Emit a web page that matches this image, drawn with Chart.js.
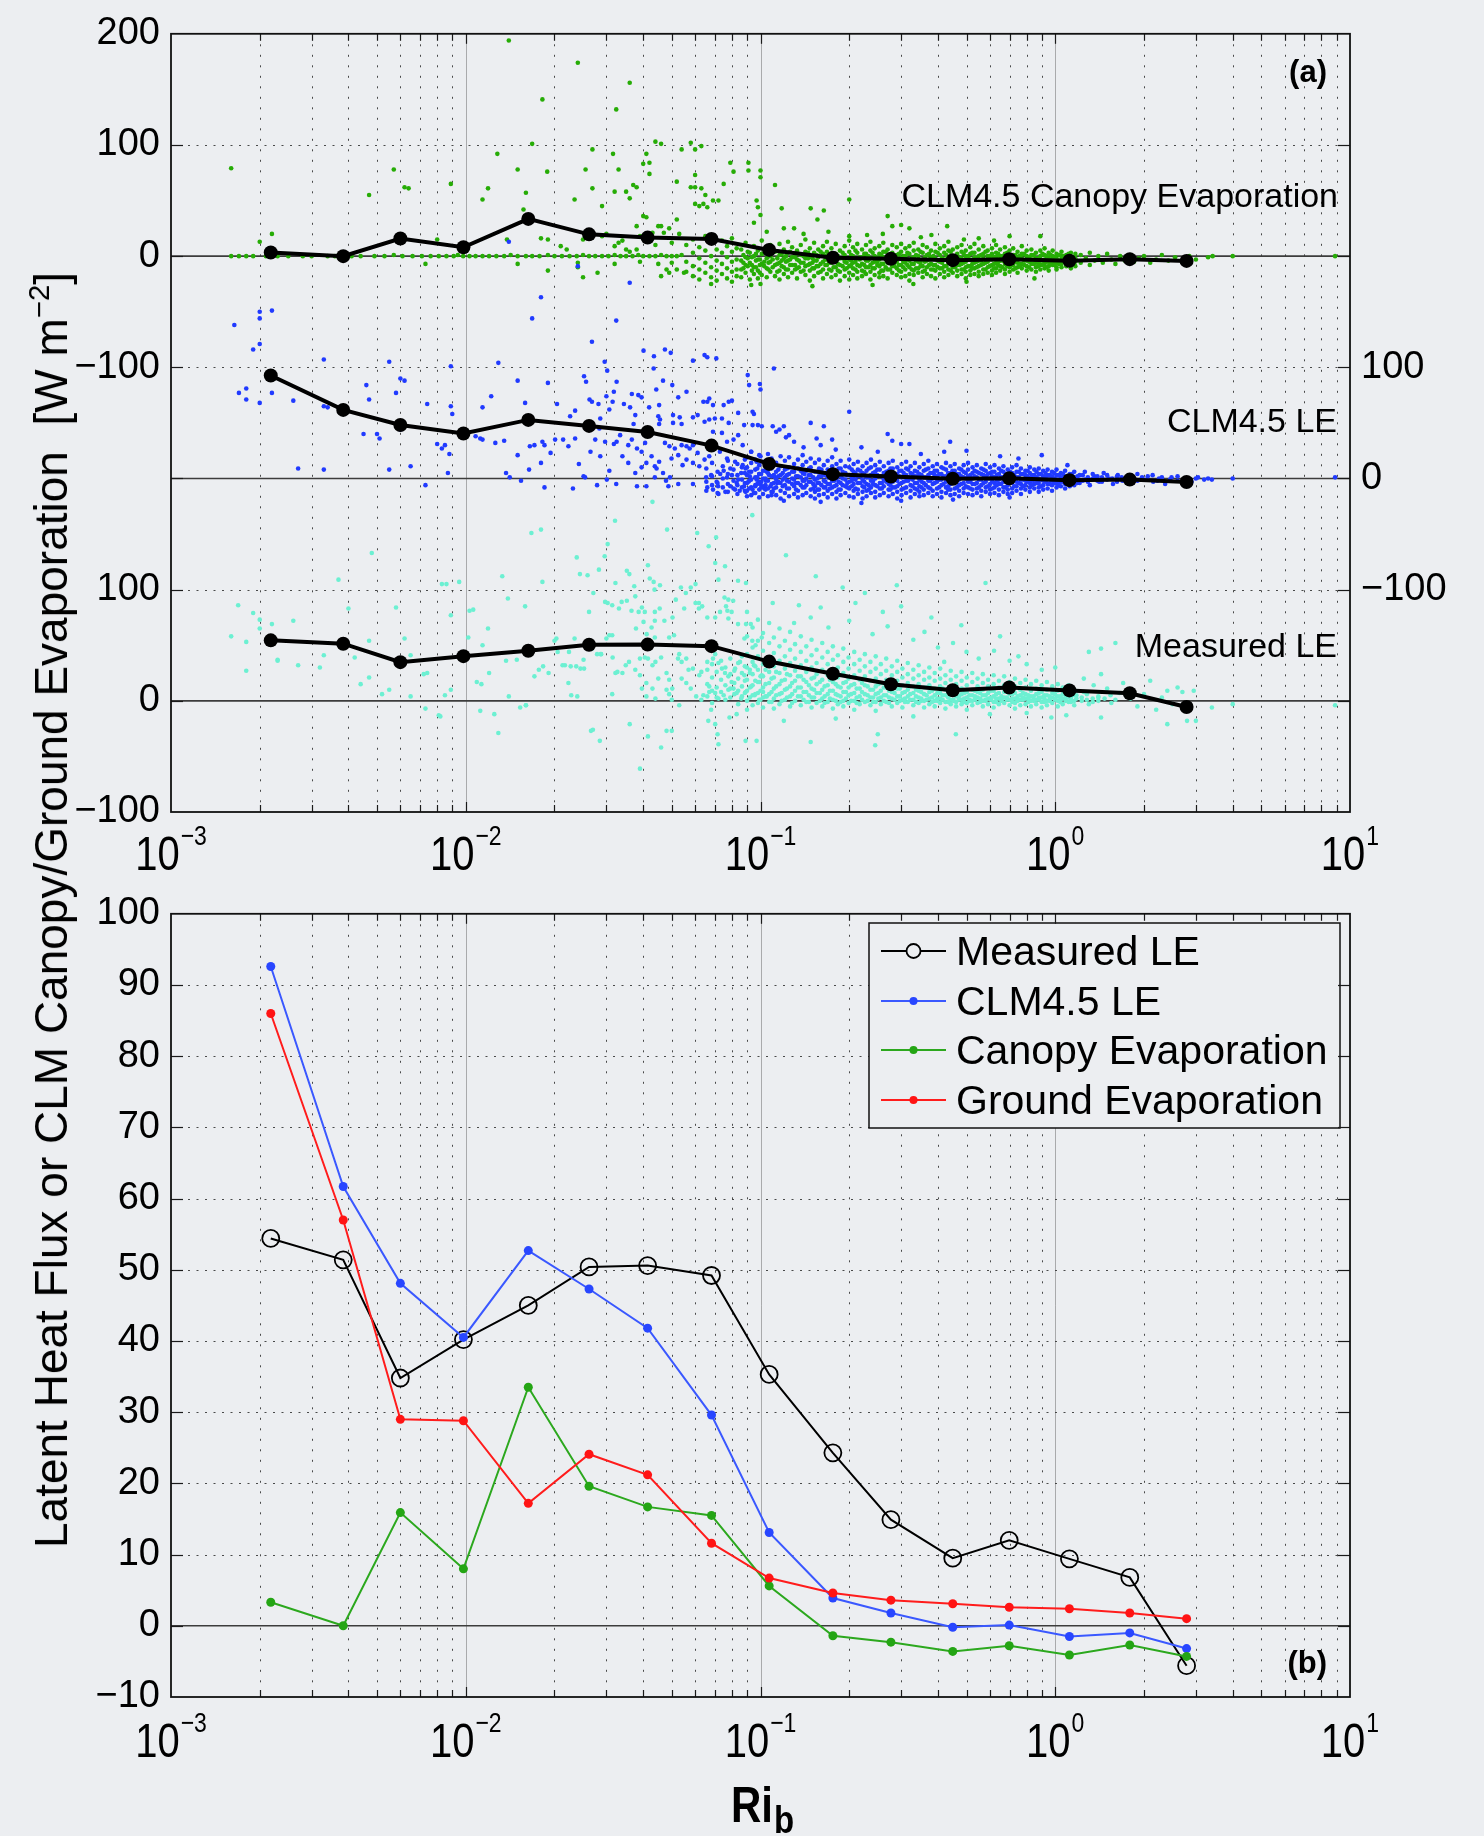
<!DOCTYPE html>
<html>
<head>
<meta charset="utf-8">
<script src="https://cdn.jsdelivr.net/npm/chart.js@4.4.1/dist/chart.umd.min.js"></script>
<style>
html, body { margin: 0; padding: 0; background: #eceef1; }
#wrap { position: relative; width: 1484px; height: 1836px; overflow: hidden; background: #eceef1; }
canvas { position: absolute; left: 0; }
#top { top: 0; }
#bot { top: 880px; }
#ytitle {
  position: absolute; left: 51px; top: 910px;
  transform: translate(-50%, -50%) rotate(-90deg);
  font: 46px "Liberation Sans", Arial, sans-serif; white-space: nowrap; line-height: 1; color: #000;
}
#ytitle sup { font-size: 0.64em; position: relative; top: -0.62em; vertical-align: baseline; line-height: 0; }
</style>
</head>
<body>
<div id="wrap">
  <canvas id="top" width="1484" height="880"></canvas>
  <canvas id="bot" width="1484" height="956"></canvas>
  <div id="ytitle">Latent Heat Flux or CLM Canopy/Ground Evaporation&nbsp; [W m<sup>−2</sup>]</div>
</div>
<script>
const FONT = '"Liberation Sans", Arial, Helvetica, sans-serif';
const BG = '#eceef1';

// ---- bin-averaged fluxes (W m-2) versus bulk Richardson number ----
const riBins     = [0.00218, 0.00384, 0.0060, 0.00982, 0.0163, 0.0262, 0.0414, 0.0682, 0.107, 0.176, 0.277, 0.449, 0.698, 1.117, 1.79, 2.79];
const measuredLE = [54.4, 51.4, 34.8, 40.2, 45.0, 50.4, 50.6, 49.2, 35.3, 24.3, 14.9, 9.5, 12.0, 9.4, 6.8, -5.6];
const clmLE      = [92.6, 61.7, 48.1, 40.5, 52.7, 47.3, 41.8, 29.6, 13.1, 3.9, 1.8, -0.2, 0.1, -1.5, -1.0, -3.2];
const canopyEvap = [3.3, 0.0, 15.9, 8.0, 33.5, 19.6, 16.7, 15.5, 5.6, -1.4, -2.3, -3.6, -2.8, -4.1, -2.7, -4.3];
const groundEvap = [86.0, 57.0, 29.0, 28.8, 17.2, 24.1, 21.2, 11.6, 6.7, 4.6, 3.6, 3.1, 2.6, 2.4, 1.8, 1.0];

// ---- axis ticks ----
const xDecades = [-3, -2, -1, 0, 1];
const xDecadeLabels = ['−3', '−2', '−1', '0', '1'];
const topTicks = [-500, -400, -300, -200, -100, 0, 100, 200];
const topLeftLabels = ['−100', '0', '100', '', '−100', '0', '100', '200'];
const topRightLabels = ['', '', '−100', '0', '100', '', '', ''];
const botTicks = [-10, 0, 10, 20, 30, 40, 50, 60, 70, 80, 90, 100];
const botLabels = ['−10', '0', '10', '20', '30', '40', '50', '60', '70', '80', '90', '100'];

// ---- individual half-hour values [Ri_b, W m-2] ----
// isolated points, dense columns [Ri_b, values...], and the crowded core of each cloud

// CLM4.5 canopy evaporation
const canopyPts = [
[0.0016,0],[0.0017,0],[0.0018,0],[0.0019,0],[0.0021,0],[0.0023,0],[0.0025,0],[0.0028,0],[0.003,0],[0.0034,0],[0.0036,0],[0.0041,0],[0.0044,0],[0.0049,0],[0.0053,0],[0.0057,1],[0.0061,0],[0.0066,0],[0.0071,0],[0.0076,0],[0.0081,0],[0.0086,0],[0.0091,0],[0.0094,1],[0.0098,0],[0.0103,0],[0.0108,0],[0.0114,0],[0.012,0],[0.0127,0],[0.0135,0],[0.0142,1],[0.015,0],[0.016,0],[0.0168,0],[0.0178,0],[0.019,1],[0.02,0],[0.0212,0],[0.0225,0],[0.0238,0],[0.025,1],[0.0262,0],[0.0275,0],[0.029,0],[0.0305,0],[0.032,1],[0.0335,0],[0.035,0],[0.0368,0],[0.0385,1],[0.04,0],[0.042,0],[0.044,0],[0.046,1],[0.048,0],[0.05,0],[0.052,0],[0.054,1],
[0.0016,79],[0.002,13],[0.0022,20],[0.0057,78],[0.0062,62],[0.0064,61],[0.0047,55],[0.0089,65],[0.008,15],[0.0073,-7],
[0.014,194],[0.024,174],[0.0182,141],[0.036,156],[0.0324,132],[0.0168,101],[0.0128,92],[0.015,78],[0.0189,76],[0.0119,61],[0.0114,51],[0.016,57],[0.0157,42],[0.0269,96],[0.0316,92],[0.0255,78],[0.0234,51],[0.0269,61],[0.029,45],[0.032,58],[0.035,58],[0.036,52],[0.033,78],[0.037,64],[0.038,62],[0.04,83],[0.042,84],[0.041,92],[0.044,103],[0.046,101],[0.042,74],[0.04,36],[0.041,35],[0.038,27],[0.046,27],[0.052,33],[0.052,67],[0.054,96],[0.058,102],[0.06,96],[0.063,99],[0.06,73],[0.058,62],[0.06,62],[0.063,61],[0.06,47],[0.062,45],[0.064,47],[0.066,44],[0.065,55],[0.069,50],[0.072,50],[0.079,84],[0.081,76],[0.075,65],
[0.015,-7],[0.019,-13],[0.024,-10],[0.024,-6],[0.025,-19],[0.028,-15],[0.032,-7],[0.039,-5],[0.045,-7],[0.046,-18],[0.049,-15],[0.048,-12],[0.05,-6],[0.052,-12],[0.055,-15],
[0.018,16],[0.019,15],[0.022,6],[0.025,15],[0.026,18],[0.029,18],[0.032,9],[0.033,12],[0.035,6],[0.036,4],[0.038,6],[0.039,18],[0.041,15],[0.043,21],[0.045,27],[0.047,21],[0.049,25],[0.0138,15],[0.021,9],[0.03,20],[0.034,14],[0.044,10],[0.05,12],[0.053,20],
[0.091,84],[0.091,77],[0.1,77],[0.1,71],[0.112,64],[0.097,50],[0.098,44],[0.1,37],[0.118,43],[0.148,43],[0.156,33],[0.164,41],[0.2,51],[0.2,18],[0.27,36],[0.28,27],[0.3,28],[0.32,25],[0.43,27],[0.49,15],[0.7,18],[0.89,18],[0.12,25],[0.13,25],[0.095,30],[0.105,22],[0.14,20],[0.17,22],[0.23,19],[0.26,20],[0.35,17],[0.38,19],[0.55,16],[0.62,14],
[0.093,-26],[0.1,-25],[0.15,-27],[0.24,-26],[0.33,-25],[0.5,-23],[0.85,-20],
[1.22,1],[1.22,-6],[1.27,-2],[1.31,3],[1.31,-8],[1.36,-4],[1.4,0],[1.45,-6],[1.5,2],[1.55,-3],[1.6,-7],[1.66,0],[1.72,-4],[1.8,1],[1.85,-5],[1.92,-2],[2.0,0],[2.1,-6],[2.2,-3],[2.3,1],[2.42,-4],[2.55,-1],[2.7,-5],[2.85,0],[3.0,-3],[3.3,-1],[3.42,0],[4.0,0],[8.9,0]
];
const canopyCols = [
[0.056,10,-5,-14],[0.059,15,3,-9,-18],[0.062,8,-2,-12,-21],[0.065,18,5,-6,-15],[0.068,12,0,-10,-19,-25],[0.071,6,-4,-13,-22],[0.074,14,3,-7,-16],[0.077,9,-1,-11,-20],[0.08,16,4,-5,-14,-23],[0.083,7,-3,-12,-18],
[0.086,6,-4,-12,-19],[0.089,12,-1,-8,-15],[0.092,3,-6,-21],[0.095,9,0,-10,-16],[0.098,5,-3,-13,-20],[0.101,14,2,-7,-17],[0.105,7,-2,-11,-19],[0.108,10,0,-5,-14],[0.112,4,-8,-18],[0.116,11,1,-6,-13,-21],
[0.12,6,-2,-10,-16],[0.124,13,3,-4,-12,-19],[0.128,8,-1,-8,-15],[0.133,5,-3,-11,-20],[0.137,10,1,-6,-14],[0.142,15,4,-2,-9,-17],[0.147,7,0,-7,-13,-22],[0.152,12,3,-4,-11,-18],[0.157,6,-1,-9,-15],[0.163,9,2,-5,-12,-20],
[0.168,13,4,-3,-8,-16],[0.174,7,0,-6,-13,-19],[0.18,11,2,-4,-10,-17],[0.186,5,-2,-8,-14,-22],[0.193,9,1,-5,-12,-18],[0.2,14,4,-3,-9,-15,-21],[0.206,8,0,-6,-11,-17],[0.213,11,3,-2,-8,-14,-20],[0.221,6,-1,-7,-13,-18],[0.228,10,2,-4,-10,-16],
[0.236,13,5,-2,-8,-14,-21],[0.244,7,0,-5,-11,-17],[0.253,9,2,-3,-9,-15,-19],[0.261,12,4,-1,-7,-13,-18],[0.27,6,0,-6,-12,-20],[0.28,10,3,-3,-9,-15],[0.29,8,1,-5,-11,-17],[0.3,11,4,-2,-8,-14,-19],[0.31,7,0,-6,-12,-18],[0.32,9,2,-4,-10,-16,-22],
[0.331,12,5,-1,-7,-13,-17],[0.343,6,0,-5,-11,-15],[0.355,10,3,-3,-9,-14,-19],[0.367,8,1,-4,-10,-16],[0.379,5,-1,-7,-12,-18],[0.392,11,4,-2,-8,-13,-20],[0.406,7,1,-5,-11,-16],[0.42,9,3,-3,-9,-14,-19],[0.434,13,5,-1,-6,-12,-17],[0.449,6,0,-5,-10,-15],
[0.465,8,2,-3,-8,-13,-18],[0.481,10,4,-2,-7,-12,-16],[0.497,5,0,-5,-10,-14,-20],[0.515,8,2,-3,-9,-13,-17],[0.532,11,3,-1,-6,-11,-16],[0.55,6,0,-4,-9,-14,-18],[0.57,9,2,-2,-7,-12,-16],[0.59,5,0,-5,-10,-15],[0.61,7,2,-3,-8,-13,-17],[0.63,10,3,-1,-6,-11,-15],
[0.65,6,0,-4,-9,-13],[0.675,8,2,-2,-7,-12,-16],[0.7,5,0,-5,-10,-14],[0.72,7,1,-3,-8,-12],[0.745,4,-1,-6,-10,-15],[0.77,9,2,-2,-7,-11],[0.8,5,0,-4,-9,-13],[0.83,6,1,-3,-7,-12],[0.86,3,-2,-6,-10,-14],[0.89,5,0,-4,-8,-12],
[0.92,7,1,-3,-7,-11],[0.95,3,-2,-5,-9,-13],[0.98,5,0,-4,-8],[1.01,2,-2,-6,-10,-12],[1.05,4,0,-3,-7,-10],[1.09,1,-3,-6,-9],[1.13,3,-1,-4,-8,-11],[1.17,2,-2,-5,-9]
];
const canopyCore = [
[0.0875,1,-6,-11],[0.0905,4,-2,-9],[0.0935,-1,-8,-13],[0.0965,2,-4,-10],[0.0995,-3,-8,-15],[0.103,3,-5,-9],[0.1065,0,-6,-12],[0.11,5,-3,-10],[0.114,-2,-7,-14],[0.118,2,-4,-9],
[0.122,0,-5,-12],[0.126,4,-3,-8],[0.131,-1,-8,-12],[0.135,2,-4,-10],[0.14,0,-6,-13],[0.145,3,-2,-8],[0.15,-2,-6,-11],[0.155,1,-4,-9],[0.16,4,-7,-14],[0.166,0,-3,-8],
[0.171,-1,-6,-12],[0.177,2,-5,-10],[0.183,0,-7,-13],[0.19,3,-2,-9],[0.196,-2,-6,-11],[0.203,1,-4,-8],[0.21,5,-5,-12],[0.217,-1,-3,-9],[0.225,2,-8,-14],[0.232,0,-4,-10],
[0.24,3,-6,-11],[0.249,-2,-5,-8],[0.257,1,-7,-13],[0.266,4,-3,-10],[0.275,0,-6,-12],[0.285,-1,-4,-9],[0.295,2,-8,-13],[0.305,0,-5,-10],[0.315,3,-3,-8],[0.326,-2,-7,-12],
[0.337,1,-4,-11],[0.349,4,-6,-9],[0.361,-1,-5,-13],[0.373,2,-3,-8],[0.386,0,-8,-12],[0.399,3,-4,-10],[0.413,-2,-6,-11],[0.427,1,-3,-9],[0.442,4,-7,-13],[0.457,0,-5,-10],
[0.473,-1,-4,-8],[0.489,2,-6,-12],[0.506,0,-3,-9],[0.523,3,-7,-11],[0.541,-2,-5,-10],[0.56,1,-4,-8],[0.58,4,-6,-12],[0.6,0,-3,-9],[0.62,-1,-7,-11],[0.64,2,-5,-8],
[0.662,0,-4,-10],[0.687,3,-6,-9],[0.71,-1,-3,-8],[0.733,1,-5,-11],[0.757,0,-7,-9],[0.785,2,-4,-8],[0.815,-1,-5,-10],[0.845,1,-3,-7],[0.875,-2,-6,-9],[0.905,2,-4,-8],
[0.935,0,-5,-10],[0.965,1,-3,-7],[0.995,-1,-6,-8],[1.03,1,-4,-7],[1.07,0,-5],[1.11,2,-3,-6],[1.15,-1,-4]
];

// CLM4.5 latent heat flux
const clmPts = [
[0.00164,138],[0.002,150],[0.0022,151],[0.002,144],[0.002,121],[0.0019,116],[0.0017,77],[0.0018,71],[0.0018,81],[0.002,68],[0.0022,77],[0.0026,70],[0.0033,107],[0.0033,65],[0.0034,64],[0.0045,40],[0.0047,71],[0.0046,84],[0.0051,36],[0.005,40],[0.0055,105],[0.0058,77],[0.006,90],[0.0062,88],[0.006,44],[0.0074,67],[0.008,31],[0.0083,27],[0.0085,30],[0.0088,22],[0.0089,101],[0.0089,65],[0.009,58],
[0.0027,9],[0.0033,8],[0.0055,8],[0.0065,11],[0.0073,-6],[0.0087,5],
[0.014,213],[0.018,163],[0.024,191],[0.036,176],
[0.0168,144],[0.0324,142],[0.0268,123],[0.0129,104],[0.0296,105],[0.0401,115],[0.0435,110],[0.0434,99],[0.0474,116],[0.0496,113],[0.059,106],[0.0646,111],[0.066,109],[0.0708,108],[0.111,99],[0.015,88],[0.019,86],[0.0159,68],[0.0204,67],[0.0114,64],[0.0122,74],[0.0252,92],[0.0256,87],[0.0302,97],[0.0325,87],[0.0318,78],[0.03,74],[0.0315,69],[0.0263,71],[0.0268,69],[0.0282,67],[0.0307,62],[0.0344,67],[0.0366,76],[0.0385,75],[0.0395,73],[0.0419,64],[0.0453,66],[0.0467,88],[0.0443,80],[0.0526,73],[0.0561,78],[0.0502,84],[0.0226,56],[0.0235,61],[0.0286,54],[0.0284,45],[0.0361,64],[0.0376,57],[0.0371,49],[0.045,56],[0.0456,53],[0.0453,49],[0.0505,57],[0.0505,50],[0.0532,55],[0.054,49],[0.059,55],[0.0612,57],[0.064,69],[0.066,69],[0.067,72],[0.0646,51],[0.067,53],[0.07,54],[0.074,54],[0.078,50],[0.069,66],[0.075,66],[0.078,69],[0.08,70],[0.0905,93],[0.0915,84],[0.0995,85],[0.1,80],[0.094,60],[0.095,58],[0.084,59],[0.088,48],[0.094,48],[0.098,48],[0.101,47],[0.11,47],[0.113,42],
[0.01,42],[0.0108,38],[0.0112,36],[0.0114,35],[0.0126,32],[0.0135,34],[0.015,21],[0.0165,29],[0.0171,30],[0.018,14],[0.0164,8],[0.0137,5],[0.0141,1],[0.0154,-2],[0.0182,33],[0.0185,30],[0.0194,23],[0.0201,35],[0.0214,35],[0.0223,29],[0.0235,36],[0.0242,13],[0.0251,2],[0.0254,1],[0.0185,-8],[0.0231,-9],[0.0279,-6],[0.0265,24],[0.0275,35],[0.0297,33],[0.0318,31],[0.0325,33],[0.0334,39],[0.0286,20],[0.0307,7],[0.0301,-1],[0.0324,-5],[0.034,20],[0.0356,30],[0.0366,35],[0.0381,27],[0.0395,24],[0.0406,32],[0.0356,14],[0.0376,5],[0.0395,10],[0.041,14],[0.0427,20],[0.0438,11],[0.0444,9],[0.0453,15],[0.0381,-7],[0.041,-7],[0.0438,1],[0.0467,5],[0.0493,1],
[0.0474,32],[0.0491,29],[0.0512,27],[0.054,30],[0.0561,29],[0.0575,27],[0.059,30],[0.0612,23],[0.0499,18],[0.0526,21],[0.0544,12],[0.0561,17],[0.059,14],[0.062,11],[0.0646,17],[0.067,20],[0.0478,-2],[0.0487,-7],[0.0526,-5],[0.059,-5],[0.0654,1],[0.066,-8],[0.069,-10],[0.0718,-7],[0.075,7],[0.077,1],[0.079,-7],[0.082,-10],[0.085,-11],[0.088,-7],[0.09,-16],[0.094,-10],[0.096,-7],[0.1,-5],[0.104,-2],[0.108,-7],[0.112,1],[0.0728,24],[0.077,18],[0.082,15],[0.087,12],[0.089,9],[0.093,24],[0.097,15],[0.1,20],[0.106,15],[0.069,42],[0.074,41],[0.077,33],[0.081,35],[0.084,39],[0.087,30],
[0.071,-3],[0.073,4],[0.076,-12],[0.08,3],[0.083,-4],[0.086,5],[0.091,-3],[0.092,2],[0.095,-13],[0.099,4],[0.103,-9],[0.107,3],[0.11,-12],[0.114,-4],[0.068,3],[0.072,-14],[0.079,9],[0.084,-1],[0.089,-12],[0.097,-1],[0.105,6],[0.109,-15],
[0.12,47],[0.122,37],[0.148,50],[0.164,47],[0.2,60],[0.28,34],[0.3,31],[0.5,25],[0.9,21],[0.13,33],[0.14,28],[0.16,30],[0.18,26],[0.22,28],[0.25,24],[0.35,22],[0.42,24],[0.65,20],[0.75,18],[1.1,12],[0.27,40],[0.32,31],[0.44,33],[0.116,44],[0.125,39],[0.155,36],[0.175,35],
[0.12,-20],[0.16,-21],[0.22,-22],[0.3,-20],[0.45,-19],[0.7,-17],
[1.21,3],[1.21,-4],[1.26,6],[1.26,-1],[1.31,-6],[1.36,2],[1.41,-3],[1.46,5],[1.52,0],[1.57,-5],[1.63,3],[1.69,-2],[1.76,1],[1.83,-4],[1.9,4],[1.98,-1],[2.06,2],[2.15,-3],[2.25,0],[2.36,-5],[2.48,1],[2.6,-2],[2.75,0],[2.9,-3],[3.05,1],[3.3,0],[3.4,-1],[4.0,0],[8.9,1]
];
const clmCols = [
[0.0655,9,-3,-11],[0.0685,14,2,-6],[0.0715,6,-4,-13],[0.0745,11,0,-8],[0.0775,16,4,-5,-12],[0.081,8,-2,-9],[0.0835,13,3,-6,-14],[0.0865,10,-1,-8],[0.0885,17,5,-4,-11],
[0.09,19,10,3,-4,-11],[0.093,24,14,6,-1,-8,-15],[0.096,17,8,1,-6,-13],[0.099,21,12,4,-3,-10,-17],[0.102,15,7,0,-7,-14],[0.106,22,13,5,-2,-9,-16],[0.109,18,9,2,-5,-12],[0.113,14,6,-1,-8,-15],[0.117,20,11,3,-4,-11,-18],[0.121,16,8,1,-6,-13],
[0.125,19,10,4,-3,-9,-16],[0.13,13,6,-1,-7,-14],[0.134,17,9,2,-4,-11,-17],[0.139,21,12,5,-2,-8,-15],[0.143,15,7,0,-6,-13],[0.148,18,10,3,-3,-10,-16],[0.153,14,6,-1,-7,-12,-18],[0.158,17,9,2,-4,-10,-15],[0.164,12,5,-2,-8,-14],[0.169,16,8,1,-5,-11,-17],
[0.175,19,11,4,-2,-8,-14],[0.181,13,6,0,-6,-12,-18],[0.187,16,9,2,-4,-10,-15],[0.194,11,5,-1,-7,-13],[0.2,17,10,3,-3,-9,-16],[0.207,13,6,0,-5,-11,-17],[0.214,15,8,2,-4,-10,-14],[0.222,11,5,-1,-7,-12,-18],[0.229,14,7,1,-5,-11,-16],[0.237,17,10,3,-2,-8,-13],
[0.245,12,6,0,-6,-12,-17],[0.254,15,8,2,-4,-9,-15],[0.262,11,5,-1,-7,-13],[0.272,14,7,1,-5,-10,-16],[0.281,16,9,3,-3,-8,-14],[0.291,10,4,-2,-7,-12,-18],[0.301,13,7,1,-4,-10,-15],[0.312,15,9,3,-2,-8,-13],[0.323,11,5,0,-6,-11,-17],[0.334,14,7,2,-4,-9,-14],
[0.346,10,4,-1,-7,-12,-16],[0.358,13,7,1,-4,-10,-15],[0.371,16,9,3,-2,-8,-13],[0.384,11,5,0,-5,-11,-16],[0.397,13,7,2,-3,-9,-14],[0.411,10,4,-1,-6,-12,-17],[0.426,14,8,2,-3,-8,-13],[0.441,11,5,0,-5,-10,-15],[0.456,13,7,1,-4,-9,-14],[0.472,9,4,-1,-6,-11,-16],
[0.489,12,6,1,-4,-9,-13],[0.506,14,8,2,-3,-8,-14],[0.524,10,5,0,-5,-10,-15],[0.542,12,6,1,-4,-9,-13],[0.561,9,4,-1,-6,-11,-16],[0.581,13,7,2,-3,-8,-12],[0.601,10,5,0,-5,-10,-14],[0.622,12,6,1,-4,-8,-13],[0.644,9,4,-1,-5,-10,-15],[0.667,11,6,1,-3,-8,-12],
[0.69,8,3,-1,-6,-10,-14],[0.714,10,5,0,-4,-9,-13],[0.739,12,6,1,-3,-7,-11],[0.765,9,4,-1,-5,-9,-14],[0.792,7,3,-2,-6,-10],[0.82,10,5,0,-4,-8,-12],[0.849,8,3,-1,-5,-9],[0.879,9,4,0,-4,-8,-12],[0.91,7,2,-2,-6,-10],[0.942,8,3,-1,-5,-9],
[0.975,6,2,-2,-6,-11],[1.01,8,3,-1,-4,-8],[1.045,5,1,-3,-7],[1.08,7,2,-1,-5,-9],[1.12,4,0,-4,-7],[1.16,6,1,-2,-6]
];
const clmCore = [
[0.0915,6,-2,-9],[0.0975,9,1,-5],[0.1005,4,-3,-8],[0.104,7,0,-6,-10],[0.111,3,-4,-9],[0.115,8,2,-3],[0.119,5,-1,-7],[0.123,9,3,-2,-9],[0.128,6,0,-5],[0.132,2,-4,-10],
[0.137,7,1,-6],[0.141,4,-2,-8],[0.146,9,3,-3],[0.151,1,-5,-9],[0.156,6,0,-4,-10],[0.161,8,2,-6],[0.166,3,-3,-8],[0.172,7,1,-5,-9],[0.178,4,-2,-7],[0.184,9,2,-3,-10],
[0.19,6,0,-6],[0.197,3,-4,-8],[0.204,8,1,-2,-7],[0.21,5,-1,-9],[0.218,7,2,-4],[0.225,4,-3,-8],[0.233,9,1,-6,-10],[0.241,5,-2,-5],[0.249,8,3,-7],[0.258,2,-4,-9],
[0.267,6,0,-3],[0.276,9,4,-6,-10],[0.286,3,-1,-8],[0.296,7,2,-5],[0.306,5,-3,-9],[0.317,8,1,-2],[0.328,4,-1,-7],[0.34,6,2,-4,-10],[0.352,3,-3,-8],[0.364,8,1,-6],
[0.377,5,-2,-9],[0.39,7,3,-4],[0.404,4,-1,-8],[0.418,9,2,-5],[0.433,5,0,-7,-10],[0.448,7,3,-3],[0.464,4,-2,-8],[0.48,8,2,-5],[0.497,5,0,-7],[0.515,3,-3,-9],
[0.533,7,2,-5],[0.551,5,-1,-8],[0.571,8,3,-4],[0.591,4,0,-7],[0.611,6,2,-3,-9],[0.633,3,-2,-6],[0.655,7,1,-5],[0.678,4,-1,-8],[0.702,6,2,-3],[0.726,3,-2,-7],
[0.752,6,1,-4],[0.778,4,-1,-7],[0.806,7,2,-3],[0.834,3,-2,-6],[0.864,6,1,-4],[0.894,4,-1,-7],[0.926,5,1,-3],[0.958,3,-1,-5],[0.992,5,0,-4],[1.027,3,-2,-6],
[1.063,4,0,-3],[1.1,2,-2,-5],[1.14,4,1,-3],[1.19,2,-1,-4],[1.24,3,-2],[1.29,1,-3],[1.34,4,0],[1.39,-2,2],[1.44,1,-3],[1.5,3,-1],[1.56,0],[1.62,-3,2],[1.68,1],[1.75,-1],[1.82,2],[1.9,-2],[1.97,1],[2.05,-1],[2.14,3],[2.22,-2],[2.3,1],[2.45,-1],[2.6,2],[2.8,-2],[3.0,0],[3.2,-1]
];

// measured latent heat flux
const measuredPts = [
[0.00169,86],[0.0019,79],[0.002,73],[0.0016,58],[0.0018,53],[0.0018,27],[0.002,65],[0.0022,69],[0.0023,37],[0.0023,36],[0.0026,72],[0.0027,32],[0.0033,41],[0.0032,30],[0.0037,109],[0.004,83],[0.0042,39],[0.0047,54],[0.0044,15],[0.0047,21],[0.0048,133],[0.0052,6],[0.0055,10],[0.0058,84],[0.0062,56],[0.0065,41],[0.0065,4],[0.0072,24],[0.0074,25],[0.0073,-7],[0.0081,-13],[0.0083,105],
[0.0086,105],[0.0095,107],[0.0133,112],[0.0167,151],[0.018,154],[0.0182,107],[0.0139,92],[0.0159,85],[0.0106,82],[0.0103,81],[0.0089,77],[0.0119,65],[0.0114,50],[0.0102,57],[0.0137,36],[0.0149,37],[0.012,25],[0.0109,17],[0.0113,15],[0.0089,10],[0.0085,5],[0.014,4],[0.0153,-6],[0.016,-4],[0.0112,-9],[0.0125,-12],[0.0129,-29],[0.0082,-14],
[0.0238,129],[0.0244,114],[0.0259,113],[0.0296,130],[0.0283,118],[0.0303,141],[0.0321,162],[0.0271,97],[0.0262,80],[0.0203,56],[0.0234,56],[0.0217,32],[0.0223,16],[0.0228,5],[0.0239,4],[0.0251,37],[0.0252,29],[0.0171,22],[0.0177,28],[0.0183,31],[0.0191,25],[0.027,-26],[0.0266,-27],[0.0285,-36],[0.0314,6],[0.0322,25],[0.0268,47],[0.0279,42],[0.0288,42],[0.03,56],[0.0307,59],[0.0314,59],
[0.0297,89],[0.0303,88],[0.0314,86],[0.0331,83],[0.0352,117],[0.0359,114],[0.0322,106],[0.0338,89],[0.0365,81],[0.0386,80],[0.0396,84],[0.0405,80],[0.0438,80],[0.0455,83],[0.0415,122],[0.0421,110],[0.0434,107],[0.0437,100],[0.0456,104],[0.0373,103],[0.0376,94],[0.0352,90],[0.0378,65],[0.0401,71],[0.0411,60],[0.0427,66],[0.0438,57],[0.0438,72],[0.0472,72],[0.0503,75],[0.049,57],[0.0509,59],[0.0482,154],[0.043,179],
[0.0537,102],[0.0558,97],[0.058,102],[0.0602,105],[0.0602,88],[0.0618,88],[0.0634,85],[0.0618,83],[0.0516,91],[0.0551,83],[0.061,151],[0.0707,147],[0.0667,139],[0.0702,124],[0.0758,121],[0.072,109],[0.0755,93],[0.0778,91],[0.0808,90],[0.0764,85],[0.0772,81],[0.0798,80],[0.0839,108],[0.0893,106],[0.0938,167],[0.066,75],[0.0702,75],[0.0729,80],[0.0778,74],[0.0839,69],[0.0893,69],[0.0927,69],[0.0882,56],[0.0938,54],[0.0962,50],[0.101,57],
[0.02,54],[0.0205,44],[0.0224,44],[0.0213,32],[0.0227,31],[0.0237,31],[0.0245,29],[0.0287,42],[0.0315,39],[0.0327,26],[0.034,25],[0.0349,32],[0.0358,35],[0.0376,28],[0.039,38],[0.0405,39],[0.0415,38],[0.043,32],[0.044,35],[0.046,39],[0.039,23],[0.041,16],[0.0396,11],[0.043,11],[0.045,20],[0.048,25],[0.049,19],[0.0502,11],[0.041,4],[0.044,2],[0.048,10],[0.05,1],[0.053,-4],[0.049,6],
[0.053,42],[0.0525,38],[0.054,35],[0.056,38],[0.057,28],[0.059,29],[0.062,23],[0.063,26],[0.054,20],[0.056,16],[0.058,11],[0.0605,4],[0.063,1],[0.064,5],[0.067,8],
[0.066,35],[0.069,38],[0.0702,42],[0.072,34],[0.074,29],[0.0758,25],[0.0778,22],[0.0798,17],[0.082,29],[0.0852,35],[0.0882,23],[0.092,28],[0.095,32],[0.099,17],[0.101,23],[0.104,35],
[0.067,13],[0.0702,7],[0.072,2],[0.075,5],[0.0778,10],[0.081,11],[0.083,7],[0.086,2],[0.089,8],[0.093,13],[0.0955,5],[0.099,1],[0.102,8],[0.105,4],
[0.0665,-18],[0.0702,-21],[0.0715,-30],[0.072,-39],[0.0785,-15],[0.083,-12],[0.089,-36],[0.068,-8],[0.048,-27],[0.05,-27],[0.0415,-32],[0.046,-42],[0.036,-21],[0.039,-61],[0.016,-4],
[0.122,131],[0.154,112],[0.19,102],[0.226,97],[0.29,104],[0.3,85],[0.58,106],[0.135,86],[0.148,75],[0.16,84],[0.11,88],[0.13,70],[0.17,66],[0.2,72],[0.24,60],[0.27,67],[0.33,55],[0.36,62],[0.4,48],[0.45,52],[0.5,44],[0.55,38],[0.62,45],[0.7,36],[0.8,33],[0.9,28],[1.0,30],[0.38,75],[0.48,68],[0.26,80],[0.21,88],[0.65,58],[0.42,35],[0.75,40],
[0.25,-30],[0.245,-40],[0.148,-37],[0.097,-36],[0.46,-30],[0.97,-15],[1.09,-13],[1.43,-15],[0.12,-18],[0.18,-16],[0.33,-14],[0.6,-12],[0.8,-11],
[1.3,44],[1.43,47],[1.6,52],[1.43,24],[2.1,18],[2.4,9],[2.7,8],[2.95,9],[2.4,-21],[2.8,-18],[3.0,-18],[3.4,-6],[4.0,-3],[8.9,-4],[1.25,20],[1.25,8],[1.3,-3],[1.35,14],[1.4,3],[1.5,11],[1.55,-2],[1.65,7],[1.7,16],[1.8,2],[1.9,-5],[2.0,6],[2.2,-8],[2.3,3],[2.5,-3],[2.6,12]
];
const measuredCols = [
[0.066,28,15,4],[0.0685,33,21,9,-2],[0.071,26,12,3],[0.0735,36,19,8],[0.076,30,14,1],[0.079,38,24,11,3],[0.0815,27,16,6],[0.084,34,20,9,-3],[0.0865,40,25,13,4],[0.0885,31,18,7],
[0.09,80,58,42,30,19,9,0,-8],[0.094,66,48,35,24,14,5,-4],[0.098,73,54,40,28,17,7,-2],[0.102,61,45,33,22,12,3,-6],[0.107,70,52,38,26,16,6,-1],[0.111,57,43,31,21,11,2,-7],[0.116,65,49,36,25,15,6,-3],[0.121,54,40,29,19,10,1],[0.126,62,46,34,23,13,4,-5],[0.131,51,38,27,18,9,0],
[0.137,58,44,32,22,12,4,-4],[0.143,49,36,26,17,8,-1],[0.149,55,41,30,20,11,3,-6],[0.155,46,34,24,15,7,-2],[0.162,52,39,28,19,10,2,-5],[0.169,44,33,23,14,6,-1],[0.176,49,37,26,17,9,1,-7],[0.183,41,30,21,13,5,-3],[0.191,47,35,25,16,8,0,-5],[0.199,39,29,20,12,5,-2],
[0.208,44,33,23,15,7,0,-8],[0.217,37,27,19,11,4,-3],[0.226,42,31,22,14,6,-1],[0.236,35,26,18,10,3,-4],[0.246,40,29,20,13,6,-1,-9],[0.256,33,24,16,9,3,-3],[0.267,38,27,19,12,5,-1],[0.279,31,23,15,8,2,-5],[0.291,36,26,18,11,4,-2],[0.303,29,21,14,7,1,-6],
[0.316,34,24,16,10,4,-1],[0.33,28,20,13,7,1,-4],[0.344,32,23,15,9,3,-2],[0.359,26,19,12,6,0,-6],[0.374,30,21,14,8,2,-3],[0.39,25,18,11,5,0,-5],[0.407,29,20,13,7,2,-2],[0.424,23,16,10,5,-1,-7],[0.442,27,19,12,6,1,-3],[0.461,22,15,9,4,-1,-5],
[0.481,26,18,11,6,1,-3],[0.501,21,14,8,3,-2,-8],[0.523,25,17,10,5,0,-4],[0.545,20,13,8,3,-2],[0.568,24,16,10,5,0,-5],[0.592,19,13,7,2,-3],[0.618,23,15,9,4,-1,-6],[0.644,18,12,7,2,-3],[0.671,22,14,8,3,-2],[0.7,17,11,6,1,-4],
[0.73,20,13,7,2,-2,-7],[0.761,16,10,5,1,-4],[0.793,19,12,6,2,-3],[0.827,15,9,4,0,-5],[0.862,18,11,6,1,-3],[0.899,14,8,3,-1,-6],[0.937,17,10,5,0,-4],[0.977,13,7,3,-2],[1.02,15,9,4,0,-5],[1.06,12,6,2,-3],[1.11,14,8,3,-1],[1.16,10,5,0,-4]
];
const measuredCore = [
[0.092,25,12,3],[0.096,31,18,6],[0.1,22,9,1],[0.104,28,15,4],[0.109,20,8,-1],[0.113,26,13,5],[0.118,18,7,0],[0.123,24,11,3],[0.128,16,6,-2],[0.134,22,12,4],
[0.14,19,8,1],[0.146,14,5,-1],[0.152,21,10,3],[0.159,17,7,0],[0.165,13,4,-2],[0.172,19,9,2],[0.18,15,6,0],[0.187,12,4,-1],[0.195,17,8,2],[0.203,14,6,0],
[0.212,11,3,-2],[0.221,16,8,1],[0.231,13,5,0],[0.241,10,3,-1],[0.251,15,7,2],[0.262,12,5,0],[0.273,9,3,-2],[0.285,14,7,1],[0.297,11,4,0],[0.309,8,2,-1],
[0.322,13,6,1],[0.337,10,4,-1],[0.351,8,2,0],[0.366,12,5,1],[0.382,9,3,-1],[0.398,7,2,0],[0.415,11,5,1],[0.433,8,3,-1],[0.451,6,1,0],[0.471,10,4,1],
[0.491,7,2,-1],[0.512,5,1,0],[0.534,9,4,1],[0.556,7,2,-1],[0.58,5,1,0],[0.605,9,3,1],[0.63,6,2,-1],[0.657,4,1,0],[0.685,8,3,1],[0.715,6,2,-1],
[0.745,4,1,0],[0.777,7,3,1],[0.81,5,2,-1],[0.845,4,1,0],[0.88,7,3,1],[0.918,5,2,-1],[0.957,4,1,0],[0.998,6,2,1],[1.04,4,1,-1],[1.085,5,2,0],
[1.13,3,1,-1],[1.18,5,2],[1.23,3,0],[1.28,6,1],[1.34,2,-1],[1.4,4,0],[1.47,2],[1.54,5],[1.6,1]
];

// ---- helpers ----
// each series in panel (a) sits on its own zero line
const SHIFT = { canopy: 0, clm: -200, measured: -400 };

function cloud(pts, colGroups, shift) {
  const out = pts.map(([x, y]) => ({ x, y: y + shift }));
  colGroups.forEach(cols => cols.forEach(([x, ...ys]) => ys.forEach(y => out.push({ x, y: y + shift }))));
  return out;
}
function series(values, shift) {
  return riBins.map((x, i) => ({ x, y: values[i] + shift }));
}
function seg(ctx, x1, y1, x2, y2) {
  ctx.beginPath(); ctx.moveTo(x1, y1); ctx.lineTo(x2, y2); ctx.stroke();
}
function powLabel(ctx, xc, base, exp) {
  ctx.save();
  ctx.fillStyle = '#000'; ctx.textAlign = 'left'; ctx.textBaseline = 'alphabetic';
  ctx.font = '40px ' + FONT; const wb = ctx.measureText('10').width;
  ctx.font = '23px ' + FONT; const ws = ctx.measureText(exp).width;
  const x0 = xc - (wb + 1 + ws) / 2;
  ctx.translate(x0, base); ctx.scale(1, 1.22);
  ctx.font = '40px ' + FONT; ctx.fillText('10', 0, 0);
  ctx.font = '23px ' + FONT; ctx.fillText(exp, wb + 1, -25 / 1.22);
  ctx.restore();
}
function drawLegend(chart, L) {
  const ctx = chart.ctx;
  ctx.save();
  ctx.fillStyle = BG; ctx.fillRect(L.x0, L.y0, L.x1 - L.x0, L.y1 - L.y0);
  ctx.strokeStyle = '#111'; ctx.lineWidth = 1.5; ctx.setLineDash([]);
  ctx.strokeRect(L.x0, L.y0, L.x1 - L.x0, L.y1 - L.y0);
  chart.data.datasets.forEach((ds, i) => {
    const cy = L.rows[i], cx = (L.lineX0 + L.lineX1) / 2;
    ctx.strokeStyle = ds.borderColor; ctx.lineWidth = ds.borderWidth;
    seg(ctx, L.lineX0, cy, L.lineX1, cy);
    ctx.beginPath(); ctx.arc(cx, cy, L.markR[i], 0, Math.PI * 2);
    if (ds.pointBackgroundColor === 'rgba(0,0,0,0)') {
      ctx.fillStyle = BG; ctx.fill();
      ctx.lineWidth = ds.pointBorderWidth; ctx.strokeStyle = ds.pointBorderColor; ctx.stroke();
    } else {
      ctx.fillStyle = ds.pointBackgroundColor; ctx.fill();
    }
    ctx.fillStyle = '#000'; ctx.font = L.font; ctx.textAlign = 'left'; ctx.textBaseline = 'alphabetic';
    ctx.fillText(ds.label, L.textX, cy + L.textDrop);
  });
  ctx.restore();
}

// MATLAB-style box: dotted grid, zero lines, inward ticks, 10^n labels, notes
const axesDeco = {
  id: 'axesDeco',
  beforeDatasetsDraw(chart, args, o) {
    const ctx = chart.ctx, a = chart.chartArea, xs = chart.scales.x, ys = chart.scales.y;
    ctx.save();
    ctx.lineWidth = 1;
    for (let d = -3; d <= 0; d++) {
      for (let m = 1; m <= 9; m++) {
        if (d === -3 && m === 1) continue;
        const px = Math.round(xs.getPixelForValue(m * Math.pow(10, d))) + 0.5;
        if (m === 1) { ctx.strokeStyle = 'rgba(60,60,60,0.38)'; ctx.setLineDash([]); }
        else { ctx.strokeStyle = 'rgba(55,55,55,0.9)'; ctx.setLineDash([2, 8.5]); }
        seg(ctx, px, a.top, px, a.bottom);
      }
    }
    ctx.strokeStyle = 'rgba(55,55,55,0.9)'; ctx.setLineDash([2, 6.5]);
    o.gridY.forEach(v => { const py = Math.round(ys.getPixelForValue(v)) + 0.5; seg(ctx, a.left, py, a.right, py); });
    ctx.setLineDash([]); ctx.strokeStyle = '#3c3c3c'; ctx.lineWidth = 1.6;
    o.zeroY.forEach(v => { const py = ys.getPixelForValue(v); seg(ctx, a.left, py, a.right, py); });
    ctx.restore();
  },
  afterDatasetsDraw(chart, args, o) {
    const ctx = chart.ctx, a = chart.chartArea, xs = chart.scales.x, ys = chart.scales.y;
    if (o.legend) drawLegend(chart, o.legend);
    ctx.save();
    ctx.setLineDash([]);
    ctx.strokeStyle = '#1a1a1a'; ctx.lineWidth = 1.2;
    for (let d = -3; d <= 0; d++) {
      for (let m = 1; m <= 9; m++) {
        if (d === -3 && m === 1) continue;
        const px = Math.round(xs.getPixelForValue(m * Math.pow(10, d))) + 0.5;
        const len = m === 1 ? 10 : 7;
        seg(ctx, px, a.top, px, a.top + len);
        seg(ctx, px, a.bottom, px, a.bottom - len);
      }
    }
    o.tickY.forEach(v => {
      const py = Math.round(ys.getPixelForValue(v)) + 0.5;
      seg(ctx, a.left, py, a.left + 12, py);
      seg(ctx, a.right, py, a.right - 12, py);
    });
    ctx.strokeStyle = '#111'; ctx.lineWidth = 1.8;
    ctx.strokeRect(a.left, a.top, a.right - a.left, a.bottom - a.top);
    xDecades.forEach((d, i) => powLabel(ctx, xs.getPixelForValue(Math.pow(10, d)), o.xLabelBase, xDecadeLabels[i]));
    ctx.fillStyle = '#000'; ctx.textBaseline = 'alphabetic';
    o.notes.forEach(n => { ctx.font = n.font; ctx.textAlign = n.align; ctx.fillText(n.text, n.x, n.y); });
    if (o.xTitle) {
      const t = o.xTitle;
      ctx.font = 'bold 42px ' + FONT; const w1 = ctx.measureText('Ri').width;
      ctx.font = 'bold 33px ' + FONT; const w2 = ctx.measureText('b').width;
      ctx.save();
      ctx.translate(t.x - (w1 + w2) / 2, t.y); ctx.scale(1, 1.2);
      ctx.textAlign = 'left';
      ctx.font = 'bold 42px ' + FONT; ctx.fillText('Ri', 0, 0);
      ctx.font = 'bold 33px ' + FONT; ctx.fillText('b', w1 + 1, 11 / 1.2);
      ctx.restore();
    }
    ctx.restore();
  }
};

Chart.defaults.font.family = FONT;
Chart.defaults.color = '#000';

function xScale(height) {
  return {
    type: 'logarithmic', min: 0.001, max: 10, position: 'bottom',
    grid: { display: false, drawTicks: false }, border: { display: false },
    ticks: { display: false },
    afterFit: s => { s.height = height; }
  };
}
function yScale(ticks, labels, pos, width, min, max) {
  return {
    type: 'linear', min, max, position: pos,
    grid: { display: false, drawTicks: false }, border: { display: false },
    afterBuildTicks: s => { s.ticks = ticks.map(v => ({ value: v })); },
    ticks: { autoSkip: false, padding: 11, font: { size: 38, family: FONT }, color: '#000',
             callback: (v, i) => labels[i] },
    afterFit: s => { s.width = width; }
  };
}

const scatterStyle = (color) => ({ pointRadius: 2.3, pointBorderWidth: 0, pointBackgroundColor: color, borderWidth: 0, showLine: false });
const meanStyle = { showLine: true, borderColor: '#000', borderWidth: 4, pointRadius: 7, pointBackgroundColor: '#000', pointBorderWidth: 0, order: 0 };

// ---- panel (a) ----
new Chart(document.getElementById('top'), {
  type: 'scatter',
  data: {
    datasets: [
      Object.assign({ label: 'CLM4.5 Canopy Evaporation samples', data: cloud(canopyPts, [canopyCols, canopyCore], SHIFT.canopy), order: 3 }, scatterStyle('rgb(38,172,6)')),
      Object.assign({ label: 'CLM4.5 LE samples', data: cloud(clmPts, [clmCols, clmCore], SHIFT.clm), order: 2 }, scatterStyle('rgb(32,58,255)')),
      Object.assign({ label: 'Measured LE samples', data: cloud(measuredPts, [measuredCols, measuredCore], SHIFT.measured), order: 1 }, scatterStyle('rgb(108,240,210)')),
      Object.assign({ label: 'CLM4.5 Canopy Evaporation', data: series(canopyEvap, SHIFT.canopy) }, meanStyle),
      Object.assign({ label: 'CLM4.5 LE', data: series(clmLE, SHIFT.clm) }, meanStyle),
      Object.assign({ label: 'Measured LE', data: series(measuredLE, SHIFT.measured) }, meanStyle)
    ]
  },
  options: {
    responsive: false, animation: false, devicePixelRatio: 1, events: [],
    layout: { padding: { top: 26, left: 0, right: 0, bottom: 0 } },
    scales: {
      x: xScale(68),
      y: yScale(topTicks, topLeftLabels, 'left', 171, -500, 200),
      yR: yScale(topTicks, topRightLabels, 'right', 134, -500, 200)
    },
    plugins: {
      legend: { display: false }, tooltip: { enabled: false },
      axesDeco: {
        gridY: [100, -100, -300], zeroY: [0, -200, -400], tickY: [100, 0, -100, -200, -300, -400],
        xLabelBase: 870,
        notes: [
          { text: '(a)', x: 1327, y: 82, align: 'right', font: 'bold 31px ' + FONT },
          { text: 'CLM4.5 Canopy Evaporation', x: 1338, y: 207, align: 'right', font: '34px ' + FONT },
          { text: 'CLM4.5 LE', x: 1337, y: 432, align: 'right', font: '34px ' + FONT },
          { text: 'Measured LE', x: 1337, y: 657, align: 'right', font: '34px ' + FONT }
        ]
      }
    }
  },
  plugins: [axesDeco]
});

// ---- panel (b) ----
new Chart(document.getElementById('bot'), {
  type: 'scatter',
  data: {
    datasets: [
      { label: 'Measured LE', data: series(measuredLE, 0), showLine: true, borderColor: '#000', borderWidth: 2,
        pointRadius: 8.5, pointBackgroundColor: 'rgba(0,0,0,0)', pointBorderColor: '#000', pointBorderWidth: 1.8, order: 4 },
      { label: 'CLM4.5 LE', data: series(clmLE, 0), showLine: true, borderColor: 'rgb(58,88,255)', borderWidth: 2,
        pointRadius: 4.5, pointBackgroundColor: 'rgb(40,70,255)', pointBorderWidth: 0, order: 3 },
      { label: 'Canopy Evaporation', data: series(canopyEvap, 0), showLine: true, borderColor: 'rgb(44,168,30)', borderWidth: 2,
        pointRadius: 4.5, pointBackgroundColor: 'rgb(36,165,20)', pointBorderWidth: 0, order: 2 },
      { label: 'Ground Evaporation', data: series(groundEvap, 0), showLine: true, borderColor: 'rgb(255,28,28)', borderWidth: 2,
        pointRadius: 4.5, pointBackgroundColor: 'rgb(255,20,20)', pointBorderWidth: 0, order: 1 }
    ]
  },
  options: {
    responsive: false, animation: false, devicePixelRatio: 1, events: [],
    layout: { padding: { top: 32, left: 0, right: 134, bottom: 0 } },
    scales: {
      x: xScale(139),
      y: yScale(botTicks, botLabels, 'left', 171, -10, 100)
    },
    plugins: {
      legend: { display: false }, tooltip: { enabled: false },
      axesDeco: {
        gridY: [10, 20, 30, 40, 50, 60, 70, 80, 90], zeroY: [0], tickY: [0, 10, 20, 30, 40, 50, 60, 70, 80, 90],
        xLabelBase: 877,
        notes: [ { text: '(b)', x: 1327, y: 793, align: 'right', font: 'bold 31px ' + FONT } ],
        xTitle: { x: 762, y: 942 },
        legend: { x0: 869, y0: 43, x1: 1340, y1: 248, rows: [71, 121, 170, 220], lineX0: 881, lineX1: 946,
                  markR: [7, 4, 4, 4], textX: 956, textDrop: 14, font: '41px ' + FONT }
      }
    }
  },
  plugins: [axesDeco]
});
</script>
</body>
</html>
